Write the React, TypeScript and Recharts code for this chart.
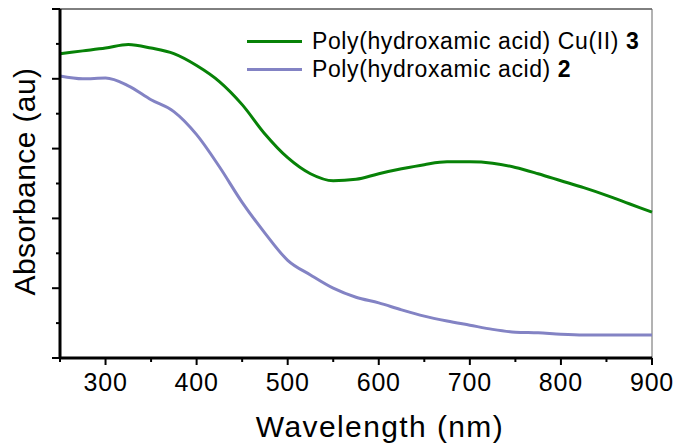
import { LineChart, Line, XAxis, YAxis, Legend, ReferenceLine } from 'recharts'

const WAVELENGTHS = [
  250, 275, 300, 325, 350, 375, 400, 425, 450, 475, 500, 525, 550, 575, 600, 625, 650, 675, 700,
  725, 750, 775, 800, 825, 850, 875, 900,
]
const CU_COMPLEX = [
  4.36, 4.4, 4.44, 4.49, 4.44, 4.36, 4.19, 3.96, 3.63, 3.21, 2.87, 2.64, 2.54, 2.56, 2.64, 2.71,
  2.77, 2.81, 2.81, 2.79, 2.73, 2.64, 2.54, 2.44, 2.33, 2.21, 2.09,
]
const POLYMER = [
  4.04, 4.0, 4.01, 3.9, 3.7, 3.53, 3.2, 2.74, 2.23, 1.79, 1.4, 1.19, 1.0, 0.87, 0.79, 0.69, 0.6,
  0.53, 0.47, 0.41, 0.37, 0.36, 0.34, 0.33, 0.33, 0.33, 0.33,
]
const X_TICKS = [250, 300, 350, 400, 450, 500, 550, 600, 650, 700, 750, 800, 850, 900]
const Y_TICKS = [0, 0.5, 1, 1.5, 2, 2.5, 3, 3.5, 4, 4.5, 5]

const GREEN = '#078207'
const LAVENDER = '#8383c4'
const FONT = '"Liberation Sans", Arial, sans-serif'

const data = WAVELENGTHS.map((w, i) => ({ w, cu: CU_COMPLEX[i], poly: POLYMER[i] }))

const LEGEND_ITEMS = [
  { label: 'Poly(hydroxamic acid) Cu(II) ', num: '3', color: GREEN },
  { label: 'Poly(hydroxamic acid) ', num: '2', color: LAVENDER },
]

function XTick({ x, y, payload }: any) {
  const major = payload.value % 100 === 0
  return (
    <g>
      <line x1={x} x2={x} y1={y} y2={y + (major ? 7 : 4)} stroke="#000" strokeWidth={2} />
      {major && (
        <text x={x} y={y + 33} textAnchor="middle" fontSize={25} letterSpacing={0.8} fill="#000" fontFamily={FONT}>
          {payload.value}
        </text>
      )}
    </g>
  )
}

function YTick({ x, y, payload }: any) {
  const major = Number.isInteger(payload.value)
  return <line x1={x - (major ? 8 : 4)} x2={x} y1={y} y2={y} stroke="#000" strokeWidth={2} />
}

function XTitle({ viewBox }: any) {
  const vb = viewBox ?? { x: 60, y: 358, width: 592, height: 80 }
  return (
    <text x={vb.x + vb.width / 2 + 24} y={vb.y + 79} textAnchor="middle" fontSize={30} letterSpacing={1.4} fill="#000" fontFamily={FONT}>
      Wavelength (nm)
    </text>
  )
}

function YTitle({ viewBox }: any) {
  const vb = viewBox ?? { x: 0, y: 9, width: 60, height: 349 }
  const cx = vb.x + 35
  const cy = vb.y + vb.height / 2 - 2
  return (
    <text x={cx} y={cy} transform={`rotate(-90, ${cx}, ${cy})`} textAnchor="middle" fontSize={30} letterSpacing={0.4} fill="#000" fontFamily={FONT}>
      Absorbance (au)
    </text>
  )
}

function LegendBox() {
  return (
    <div style={{ fontFamily: FONT, fontSize: 23, letterSpacing: 0.6, color: '#000' }}>
      {LEGEND_ITEMS.map((it) => (
        <div key={it.num} style={{ display: 'flex', alignItems: 'center', height: 28, whiteSpace: 'nowrap' }}>
          <span style={{ display: 'inline-block', width: 55, height: 3, background: it.color, marginRight: 10 }} />
          <span>
            {it.label}
            <b>{it.num}</b>
          </span>
        </div>
      ))}
    </div>
  )
}

export default function App() {
  return (
    <div style={{ position: 'absolute', top: 0, left: 0, background: '#fff' }}>
      <LineChart width={678} height={445} data={data} margin={{ top: 9, right: 26, bottom: 7, left: 0 }}>
        <XAxis
          dataKey="w"
          type="number"
          domain={[250, 900]}
          ticks={X_TICKS}
          interval={0}
          height={80}
          tickSize={0}
          tickMargin={0}
          tick={<XTick />}
          axisLine={{ stroke: '#000', strokeWidth: 3 }}
          label={{ content: XTitle }}
        />
        <YAxis
          type="number"
          domain={[0, 5]}
          ticks={Y_TICKS}
          interval={0}
          width={60}
          tickSize={0}
          tickMargin={0}
          tick={<YTick />}
          axisLine={{ stroke: '#000', strokeWidth: 3 }}
          label={{ content: YTitle }}
        />
        <ReferenceLine y={5} stroke="#000" strokeWidth={1} />
        <ReferenceLine x={900} stroke="#666" strokeWidth={1} />
        <Legend
          layout="horizontal"
          verticalAlign="middle"
          content={<LegendBox />}
          wrapperStyle={{ left: 247, top: 27, width: 'auto' }}
        />
        <Line type="monotone" dataKey="cu" stroke={GREEN} strokeWidth={3} dot={false} isAnimationActive={false} />
        <Line type="monotone" dataKey="poly" stroke={LAVENDER} strokeWidth={3} dot={false} isAnimationActive={false} />
      </LineChart>
    </div>
  )
}
